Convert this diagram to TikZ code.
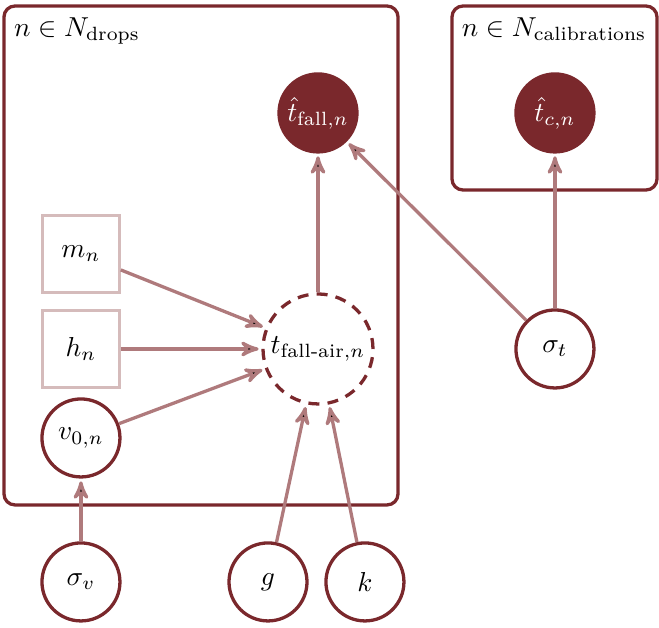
\documentclass[tikz,border=0pt]{standalone}
\usepackage{amsmath}
\usepackage{tikz}
\usetikzlibrary{arrows,shapes}
\definecolor{plate}{HTML}{7A282C}
\definecolor{arr}{HTML}{AF7A7C}
\definecolor{obs}{HTML}{D5BBBB}

\begin{document}
\begin{tikzpicture}[->,>=stealth',semithick,
    latent/.style={shape=circle,draw=plate,line width=1.2pt,minimum size=1cm,inner sep=0pt,fill=white},
    given/.style={shape=rectangle,draw=obs,line width=1.2pt,minimum size=0.98cm,inner sep=0pt},
    measured/.style={shape=circle,draw=plate,fill=plate,text=white,line width=1.2pt,minimum size=1cm,inner sep=0pt},
    link/.style={draw=arr,line width=1.2pt,shorten >=1pt}]
            \useasboundingbox (0,0) rectangle (8.449,8.051);
            % plates
            \draw[-,plate,line width=1.2pt,rounded corners=4pt] (0.051,1.577) rectangle (5.103,7.974);
            \draw[-,plate,line width=1.2pt,rounded corners=4pt] (5.795,5.615) rectangle (8.423,7.974);
            \node[anchor=north west,inner sep=2pt](drops)at(0.1, 7.9){$n\in N_{\text{drops}}$};
            \node[anchor=north west,inner sep=2pt](calib)at(5.84, 7.9){$n\in N_{\text{calibrations}}$};
            % nodes
            \node[measured](tfall)at(4.077, 6.603){$\hat{t}_{\text{fall},n}$};
            \node[measured](tc)at(7.115, 6.603){$\hat{t}_{c,n}$};
            \node[given](m)at(1.038, 4.795){$m_n$};
            \node[given](h)at(1.038, 3.577){$h_n$};
            \node[latent](v)at(1.038, 2.436){$v_{0,n}$};
            \node[latent,dashed,dash pattern=on 4pt off 3pt,minimum size=1.41cm](tair)at(4.077, 3.577){$t_{\text{fall-air},n}$};
            \node[latent](sigmat)at(7.115, 3.577){$\sigma_t$};
            \node[latent](sigmav)at(1.038, 0.590){$\sigma_v$};
            \node[latent](g)at(3.436, 0.590){$g$};
            \node[latent](k)at(4.679, 0.590){$k$};
            % links
            \path[link](m) edge (tair)
            (h) edge (tair)
            (v) edge (tair)
            (g) edge (tair)
            (k) edge (tair)
            (tair) edge (tfall)
            (sigmat) edge (tfall)
            (sigmat) edge (tc)
            (sigmav) edge (v);
        \end{tikzpicture}
\end{document}
